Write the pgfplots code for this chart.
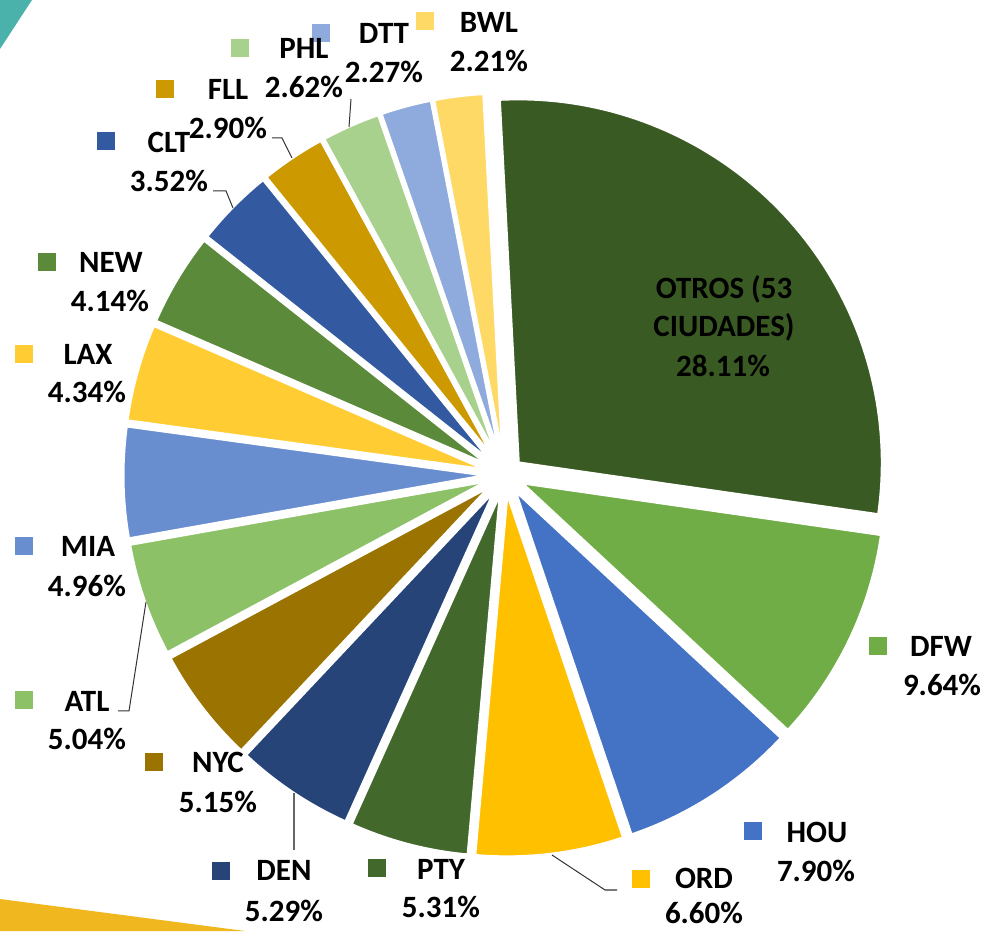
\documentclass[border=0pt]{standalone}
\usepackage{pgfplots}
\pgfplotsset{compat=1.18}
\usepackage{pgfplotstable}
\usepackage{fontspec}
\setmainfont{Carlito}
\definecolor{cOTROS}{HTML}{3A5A24}
\definecolor{cDFW}{HTML}{70AD47}
\definecolor{cHOU}{HTML}{4472C4}
\definecolor{cORD}{HTML}{FFC000}
\definecolor{cPTY}{HTML}{43682B}
\definecolor{cDEN}{HTML}{264478}
\definecolor{cNYC}{HTML}{9A7300}
\definecolor{cATL}{HTML}{8CC168}
\definecolor{cMIA}{HTML}{698ED0}
\definecolor{cLAX}{HTML}{FFCD33}
\definecolor{cNEW}{HTML}{5A8A3A}
\definecolor{cCLT}{HTML}{335AA1}
\definecolor{cFLL}{HTML}{CC9A00}
\definecolor{cPHL}{HTML}{A9D18E}
\definecolor{cDTT}{HTML}{8FAADC}
\definecolor{cBWL}{HTML}{FFD966}
\definecolor{teal}{HTML}{4BB1AB}
\definecolor{deco}{HTML}{F0B81E}

\pgfplotstableread[col sep=comma]{
name,value,color
OTROS,28.11,cOTROS
DFW,9.64,cDFW
HOU,7.90,cHOU
ORD,6.60,cORD
PTY,5.31,cPTY
DEN,5.29,cDEN
NYC,5.15,cNYC
ATL,5.04,cATL
MIA,4.96,cMIA
LAX,4.34,cLAX
NEW,4.14,cNEW
CLT,3.52,cCLT
FLL,2.90,cFLL
PHL,2.62,cPHL
DTT,2.27,cDTT
BWL,2.21,cBWL
}\piedata

% key x, key y, colour, name x, name baseline, name, pct x, pct baseline, pct
\newcommand\catlabel[9]{%
  \node[fill=#3, minimum size=18pt, inner sep=0pt] at (axis cs:#1,#2) {};
  \node[anchor=base, inner sep=0pt] at (axis cs:#4,#5) {#6};
  \node[anchor=base, inner sep=0pt] at (axis cs:#7,#8) {#9};
}

\begin{document}
\begin{tikzpicture}[font=\bfseries\fontsize{31}{37}\selectfont]
\begin{axis}[x=1pt, y=1pt, xmin=0, xmax=987, ymin=0, ymax=931,
  hide axis, clip=false]
% decorations
\fill[teal] (axis cs:0,931) -- (axis cs:32,931) -- (axis cs:0,882) -- cycle;
\fill[deco] (axis cs:0,32) -- (axis cs:245,0) -- (axis cs:0,0) -- cycle;
% pie slices
\def\cum{0}
\pgfplotsforeachungrouped \i in {0,...,15}{%
  \pgfplotstablegetelem{\i}{value}\of\piedata
  \let\v\pgfplotsretval
  \pgfplotstablegetelem{\i}{color}\of\piedata
  \let\col\pgfplotsretval
  \pgfmathsetmacro\aS{93-3.6*\cum}%
  \pgfmathsetmacro\aE{93-3.6*(\cum+\v)}%
  \pgfmathsetmacro\aM{(\aS+\aE)/2}%
  \pgfmathsetmacro\ox{505+18*cos(\aM)}%
  \pgfmathsetmacro\oy{456+18*sin(\aM)}%
  \edef\doslice{\noexpand\addplot[fill=\col, draw=white, line width=3pt,
    line join=round, domain=\aE:\aS, samples=80, variable=\noexpand\t]
    ({\ox+364*cos(\noexpand\t)},{\oy+364*sin(\noexpand\t)})
    -- (axis cs:\ox,\oy) -- cycle;}%
  \doslice
  \pgfmathsetmacro\cum{\cum+\v}%
}
% leader lines
\draw[black!80, line width=1pt] (axis cs:351,832) -- (axis cs:349,804);
\draw[black!80, line width=1pt] (axis cs:272,793) -- (axis cs:282,793) -- (axis cs:292,773);
\draw[black!80, line width=1pt] (axis cs:213,740) -- (axis cs:226,740) -- (axis cs:233,723);
\draw[black!80, line width=1pt] (axis cs:118,220) -- (axis cs:129,220) -- (axis cs:146,329);
\draw[black!60, line width=1.2pt] (axis cs:294,138) -- (axis cs:294,81);
\draw[black!80, line width=1pt] (axis cs:552,76) -- (axis cs:605,41) -- (axis cs:617,41);
% labels (y = 931 - pixel y)
\catlabel{425}{910}{cBWL}{489}{898}{BWL}{489}{859}{2.21\%}
\catlabel{321}{898}{cDTT}{384}{887}{DTT}{384}{848}{2.27\%}
\catlabel{240}{883}{cPHL}{304}{872}{PHL}{304}{833}{2.62\%}
\catlabel{165}{842}{cFLL}{228}{831}{FLL}{228}{792}{2.90\%}
\catlabel{106}{790}{cCLT}{169}{778}{CLT}{169}{739}{3.52\%}
\catlabel{47}{669}{cNEW}{111}{658}{NEW}{110}{619}{4.14\%}
\catlabel{24}{577}{cLAX}{88}{566}{LAX}{87}{528}{4.34\%}
\catlabel{24}{385}{cMIA}{88}{374}{MIA}{87}{334}{4.96\%}
\catlabel{24}{231}{cATL}{87}{219}{ATL}{87}{181}{5.04\%}
\catlabel{154}{169}{cNYC}{218}{158}{NYC}{218}{118}{5.15\%}
\catlabel{221}{60}{cDEN}{284}{50}{DEN}{284}{10}{5.29\%}
\catlabel{377}{63}{cPTY}{441}{51}{PTY}{441}{14}{5.31\%}
\catlabel{641}{52}{cORD}{704}{42}{ORD}{704}{8}{6.60\%}
\catlabel{753}{100}{cHOU}{817}{88}{HOU}{816}{49}{7.90\%}
\catlabel{878}{285}{cDFW}{941}{274}{DFW}{942}{235}{9.64\%}
\node[anchor=base, inner sep=0pt] at (axis cs:724,632) {OTROS (53};
\node[anchor=base, inner sep=0pt] at (axis cs:724,594) {CIUDADES)};
\node[anchor=base, inner sep=0pt] at (axis cs:723,554) {28.11\%};
\end{axis}
\pgfresetboundingbox
\path (current axis.south west) rectangle (current axis.north east);
\end{tikzpicture}
\end{document}
